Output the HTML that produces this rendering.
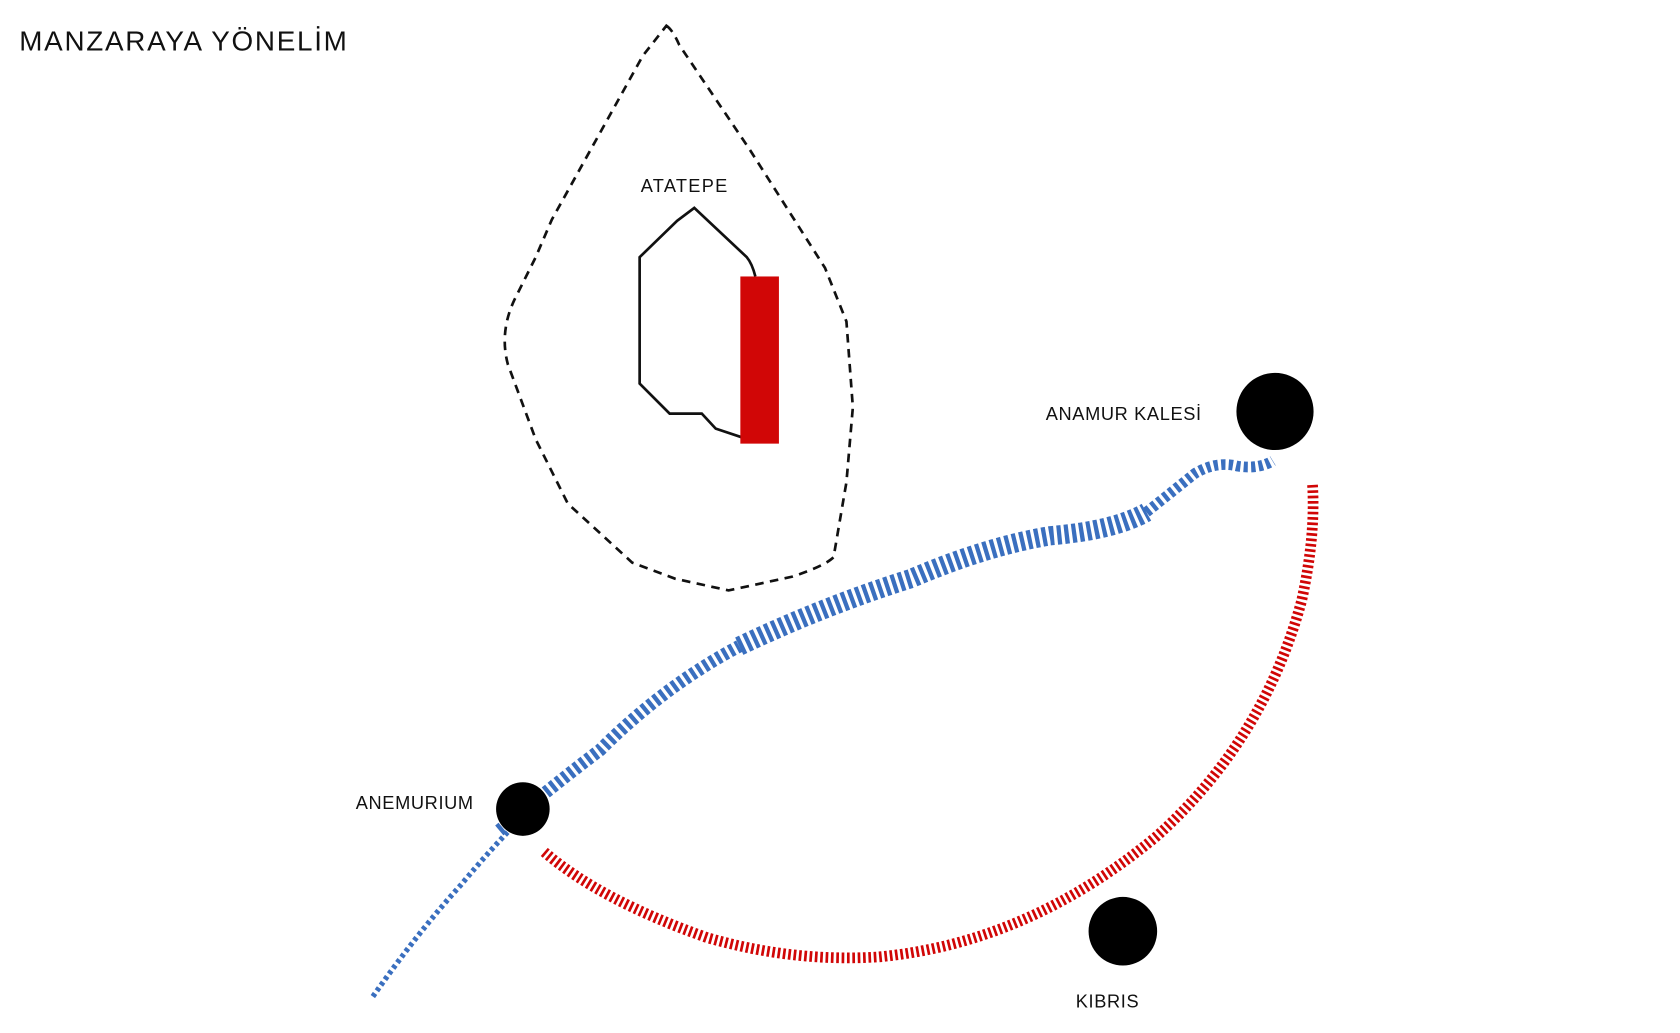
<!DOCTYPE html>
<html><head><meta charset="utf-8"><style>
html,body{margin:0;padding:0;background:#fff;}
svg{display:block;}
text{font-family:"Liberation Sans",sans-serif;fill:#111;}
</style></head><body>
<svg width="1680" height="1033" viewBox="0 0 1568 964" preserveAspectRatio="none" xmlns="http://www.w3.org/2000/svg">
<rect width="1568" height="964" fill="#fff"/>
<text x="18" y="47" font-size="26" letter-spacing="1.6">MANZARAYA YÖNELİM</text>
<path d="M622,24 Q628,28 634,42 L700,140 L735,195 L770,250 L790,300 L796,380 L790,450 L778,520 Q770,528 740,538 L680,551 L630,540 L590,525 L530,470 L500,410 L474,340 Q466,310 480,280 L500,240 L515,205 L540,160 L600,52 Z" fill="none" stroke="#111" stroke-width="2.5" stroke-dasharray="8 6"/>
<text x="598" y="179" font-size="17" letter-spacing="1.2">ATATEPE</text>
<path d="M705,258 Q702,246 697,240 L648,194 L632,206 L597,240 L597,358 L625,386 L655,386 L668,400 L692,408" fill="none" stroke="#111" stroke-width="2.5"/>
<rect x="691" y="258" width="36" height="156" fill="#d10606"/>
<path d="M508,795 Q560,840 660,875 Q740,898 820,893 Q960,880 1080,780 Q1180,690 1215,560 Q1228,500 1225,452" fill="none" stroke="#d10606" stroke-width="10" stroke-dasharray="2.5 2.5"/>
<path d="M348,930 Q390,870 430,826 Q460,790 488,762" fill="none" stroke="#3a6fbf" stroke-width="5" stroke-dasharray="3.5 3"/>
<path d="M466,775 Q520,730 560,700 Q620,640 690,603" fill="none" stroke="#3a6fbf" stroke-width="12" stroke-dasharray="4 3"/>
<path d="M690,603 Q770,565 850,540 Q920,510 980,500 Q1040,495 1070,478" fill="none" stroke="#3a6fbf" stroke-width="18" stroke-dasharray="4 3"/>
<path d="M1070,478 Q1095,458 1115,442 Q1135,430 1155,435 Q1175,438 1188,430" fill="none" stroke="#3a6fbf" stroke-width="10" stroke-dasharray="4 3"/>
<circle cx="1190" cy="384" r="36" fill="#000"/>
<circle cx="488" cy="755" r="25" fill="#000"/>
<circle cx="1048" cy="869" r="32" fill="#000"/>
<text x="976" y="392" font-size="17" letter-spacing="0.6">ANAMUR KALESİ</text>
<text x="332" y="755" font-size="17" letter-spacing="0.6">ANEMURIUM</text>
<text x="1004" y="940" font-size="17" letter-spacing="0.6">KIBRIS</text>
</svg>
</body></html>
